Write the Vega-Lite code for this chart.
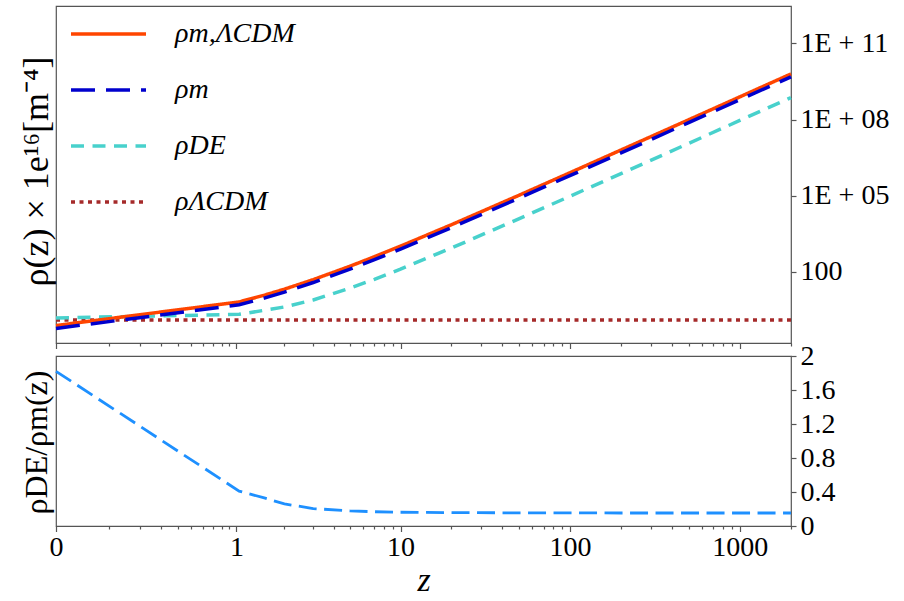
{
  "$schema": "https://vega.github.io/schema/vega-lite/v6.json",
  "padding": {"left": 17, "top": 5, "right": 5, "bottom": 5},
  "background": "white",
  "spacing": 13,
  "bounds": "flush",
  "config": {
    "view": {"stroke": "#555", "strokeWidth": 1.2},
    "axis": {"grid": false, "domain": false, "labelFont": "Liberation Serif", "labelFontSize": 28, "labelColor": "black", "tickColor": "#555", "tickWidth": 1.2, "titleFont": "Liberation Serif", "titleColor": "black", "titleFontWeight": "normal"}
  },
  "datasets": {
    "dens": [
      {"z": 0, "series": "ρm,ΛCDM", "rho": 0.78},
      {"z": 1.04, "series": "ρm,ΛCDM", "rho": 6.62},
      {"z": 1.5, "series": "ρm,ΛCDM", "rho": 12.2},
      {"z": 2, "series": "ρm,ΛCDM", "rho": 21.0},
      {"z": 3, "series": "ρm,ΛCDM", "rho": 49.9},
      {"z": 5, "series": "ρm,ΛCDM", "rho": 168.5},
      {"z": 7, "series": "ρm,ΛCDM", "rho": 399},
      {"z": 10, "series": "ρm,ΛCDM", "rho": 1038},
      {"z": 20, "series": "ρm,ΛCDM", "rho": 7220},
      {"z": 50, "series": "ρm,ΛCDM", "rho": 103500},
      {"z": 100, "series": "ρm,ΛCDM", "rho": 804000},
      {"z": 200, "series": "ρm,ΛCDM", "rho": 6340000},
      {"z": 500, "series": "ρm,ΛCDM", "rho": 98000000},
      {"z": 1000, "series": "ρm,ΛCDM", "rho": 782000000},
      {"z": 2000, "series": "ρm,ΛCDM", "rho": 6250000000},
      {"z": 0, "series": "ρm", "rho": 0.60},
      {"z": 1.04, "series": "ρm", "rho": 5.10},
      {"z": 1.5, "series": "ρm", "rho": 9.39},
      {"z": 2, "series": "ρm", "rho": 16.2},
      {"z": 3, "series": "ρm", "rho": 38.4},
      {"z": 5, "series": "ρm", "rho": 129.7},
      {"z": 7, "series": "ρm", "rho": 307},
      {"z": 10, "series": "ρm", "rho": 799},
      {"z": 20, "series": "ρm", "rho": 5560},
      {"z": 50, "series": "ρm", "rho": 79700},
      {"z": 100, "series": "ρm", "rho": 619000},
      {"z": 200, "series": "ρm", "rho": 4880000},
      {"z": 500, "series": "ρm", "rho": 75500000},
      {"z": 1000, "series": "ρm", "rho": 602000000},
      {"z": 2000, "series": "ρm", "rho": 4810000000},
      {"z": 0, "series": "ρDE", "rho": 1.55},
      {"z": 1.04, "series": "ρDE", "rho": 2.15},
      {"z": 1.5, "series": "ρDE", "rho": 3.1},
      {"z": 2, "series": "ρDE", "rho": 4.2},
      {"z": 3, "series": "ρDE", "rho": 7.9},
      {"z": 5, "series": "ρDE", "rho": 23.1},
      {"z": 7, "series": "ρDE", "rho": 51.6},
      {"z": 10, "series": "ρDE", "rho": 129},
      {"z": 20, "series": "ρDE", "rho": 873},
      {"z": 50, "series": "ρDE", "rho": 12350},
      {"z": 100, "series": "ρDE", "rho": 95300},
      {"z": 200, "series": "ρDE", "rho": 747000},
      {"z": 500, "series": "ρDE", "rho": 11550000},
      {"z": 1000, "series": "ρDE", "rho": 92100000},
      {"z": 2000, "series": "ρDE", "rho": 736000000},
      {"z": 0, "series": "ρΛCDM", "rho": 1.29},
      {"z": 1.04, "series": "ρΛCDM", "rho": 1.29},
      {"z": 10, "series": "ρΛCDM", "rho": 1.29},
      {"z": 100, "series": "ρΛCDM", "rho": 1.29},
      {"z": 1000, "series": "ρΛCDM", "rho": 1.29},
      {"z": 2000, "series": "ρΛCDM", "rho": 1.29}
    ],
    "ratio": [
      {"z": 0, "ratio": 1.82},
      {"z": 1.04, "ratio": 0.41},
      {"z": 1.5, "ratio": 0.33},
      {"z": 2, "ratio": 0.26},
      {"z": 3, "ratio": 0.205},
      {"z": 5, "ratio": 0.178},
      {"z": 7, "ratio": 0.168},
      {"z": 10, "ratio": 0.162},
      {"z": 20, "ratio": 0.157},
      {"z": 50, "ratio": 0.155},
      {"z": 100, "ratio": 0.154},
      {"z": 200, "ratio": 0.153},
      {"z": 500, "ratio": 0.153},
      {"z": 1000, "ratio": 0.153},
      {"z": 2000, "ratio": 0.153}
    ]
  },
  "vconcat": [
    {
      "width": 735,
      "height": 337,
      "data": {"name": "dens"},
      "encoding": {
        "x": {
          "field": "z", "type": "quantitative",
          "scale": {"type": "symlog", "constant": 0.095, "domain": [0, 2000], "nice": false},
          "axis": {
            "values": [0, 0.1, 0.2, 0.3, 0.4, 0.5, 0.6, 0.7, 0.8, 0.9, 1, 2, 3, 4, 5, 6, 7, 8, 9, 10, 20, 30, 40, 50, 60, 70, 80, 90, 100, 200, 300, 400, 500, 600, 700, 800, 900, 1000, 2000],
            "labels": false, "title": null,
            "tickSize": {"condition": {"test": "indexof([0,1,10,100,1000], datum.value) >= 0", "value": 5.5}, "value": 3}
          }
        },
        "y": {
          "field": "rho", "type": "quantitative",
          "scale": {"type": "log", "domain": [0.16, 2.95e12], "nice": false},
          "axis": {
            "orient": "right", "values": [100, 100000, 100000000, 100000000000],
            "labelExpr": "datum.value > 1e10 ? '1E + 11' : datum.value > 1e7 ? '1E + 08' : datum.value > 1e4 ? '1E + 05' : '100'",
            "tickSize": 5, "labelPadding": 4, "labelFlush": false, "labelOverlap": false,
            "title": "ρ(z) × 1e¹⁶[m⁻⁴]", "titleX": -755, "titleY": 165, "titleAngle": 270,
            "titleAlign": "center", "titleBaseline": "middle", "titleFontSize": 36
          }
        },
        "color": {
          "field": "series", "type": "nominal",
          "scale": {"domain": ["ρm,ΛCDM", "ρm", "ρDE", "ρΛCDM"], "range": ["#FF4500", "#0000CD", "#48D1CC", "#A52A2A"]},
          "legend": {
            "title": null, "orient": "none", "legendX": 13, "legendY": 8, "padding": 0,
            "symbolType": "stroke", "symbolSize": 5625, "symbolStrokeWidth": 3.5,
            "clipHeight": 40, "rowPadding": 16, "labelOffset": 27,
            "labelFont": "Liberation Serif", "labelFontStyle": "italic", "labelFontSize": 28, "labelColor": "black", "labelLimit": 300
          }
        },
        "strokeDash": {
          "field": "series", "type": "nominal",
          "scale": {"domain": ["ρm,ΛCDM", "ρm", "ρDE", "ρΛCDM"], "range": [[1, 0], [24, 11], [13, 8.5], [4, 4.5]]},
          "legend": {
            "title": null, "orient": "none", "legendX": 13, "legendY": 8, "padding": 0,
            "symbolType": "stroke", "symbolSize": 5625, "symbolStrokeWidth": 3.5,
            "clipHeight": 40, "rowPadding": 16, "labelOffset": 27,
            "labelFont": "Liberation Serif", "labelFontStyle": "italic", "labelFontSize": 28, "labelColor": "black", "labelLimit": 300
          }
        }
      },
      "layer": [
        {"transform": [{"filter": "datum.series === 'ρΛCDM'"}], "mark": {"type": "line", "strokeWidth": 3.5}},
        {"transform": [{"filter": "datum.series === 'ρDE'"}], "mark": {"type": "line", "strokeWidth": 3.5}},
        {"transform": [{"filter": "datum.series === 'ρm,ΛCDM'"}], "mark": {"type": "line", "strokeWidth": 3.5}},
        {"transform": [{"filter": "datum.series === 'ρm'"}], "mark": {"type": "line", "strokeWidth": 3.5}}
      ]
    },
    {
      "width": 735,
      "height": 170,
      "data": {"name": "ratio"},
      "mark": {"type": "line", "color": "#1E90FF", "strokeWidth": 2.8, "strokeDash": [18, 7.5]},
      "encoding": {
        "x": {
          "field": "z", "type": "quantitative",
          "scale": {"type": "symlog", "constant": 0.095, "domain": [0, 2000], "nice": false},
          "axis": {
            "values": [0, 0.1, 0.2, 0.3, 0.4, 0.5, 0.6, 0.7, 0.8, 0.9, 1, 2, 3, 4, 5, 6, 7, 8, 9, 10, 20, 30, 40, 50, 60, 70, 80, 90, 100, 200, 300, 400, 500, 600, 700, 800, 900, 1000, 2000],
            "labelExpr": "indexof([0,1,10,100,1000], datum.value) >= 0 ? toString(datum.value) : ''",
            "labelOverlap": false, "labelFlush": false, "labelBound": false, "labelPadding": 2,
            "tickSize": {"condition": {"test": "indexof([0,1,10,100,1000], datum.value) >= 0", "value": 5.5}, "value": 3},
            "title": "z", "titleFontStyle": "italic", "titleFontSize": 34, "titlePadding": 2
          }
        },
        "y": {
          "field": "ratio", "type": "quantitative",
          "scale": {"domain": [0, 2], "nice": false},
          "axis": {
            "orient": "right", "values": [0, 0.4, 0.8, 1.2, 1.6, 2], "format": ".1~f",
            "tickSize": 5, "labelPadding": 4, "labelFlush": false, "labelOverlap": false,
            "title": "ρDE/ρm(z)", "titleX": -755, "titleY": 86, "titleAngle": 270,
            "titleAlign": "center", "titleBaseline": "middle", "titleFontSize": 32
          }
        }
      }
    }
  ]
}
